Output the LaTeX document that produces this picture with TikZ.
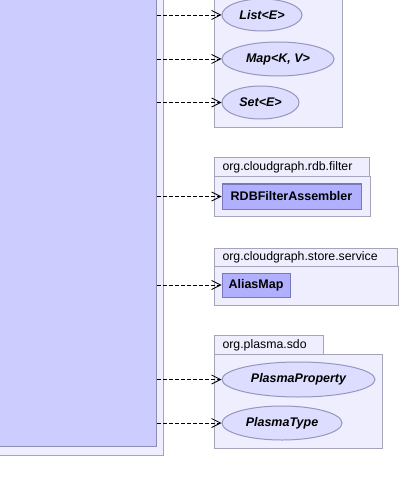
\documentclass[tikz,border=0pt]{standalone}
\usepackage{fontspec}
\setmainfont{Liberation Sans}
\usetikzlibrary{shapes.geometric, arrows.meta, positioning}
\definecolor{classfill}{RGB}{204, 204, 255}
\definecolor{classdraw}{RGB}{140, 140, 180}
\definecolor{framefill}{RGB}{238, 238, 255}
\definecolor{framedraw}{RGB}{165, 165, 185}
\definecolor{ifacefill}{RGB}{221, 221, 255}
\definecolor{ifacedraw}{RGB}{150, 150, 190}
\definecolor{boxfill}{RGB}{176, 176, 255}
\definecolor{boxdraw}{RGB}{120, 120, 190}

\begin{document}
\begin{tikzpicture}[x=1pt, y=-1pt, line width=1pt,
    pkgbody/.style={draw=framedraw, fill=framefill, inner sep=0pt, anchor=north west},
    pkgtab/.style={draw=framedraw, fill=framefill, inner xsep=8pt, inner ysep=0pt, minimum height=19pt, anchor=north west, align=left, font=\fontsize{12.3}{14}\selectfont},
    iface/.style={ellipse, draw=ifacedraw, fill=ifacefill, inner sep=0pt, font=\bfseries\itshape\fontsize{12.5}{14}\selectfont},
    cbox/.style={draw=boxdraw, fill=boxfill, inner sep=0pt, font=\bfseries\fontsize{12.5}{14}\selectfont},
    dep/.style={black, line width=0.8pt, dash pattern=on 4pt off 2pt, -{Straight Barb[length=9pt, width=9pt]}}]
        \useasboundingbox (0,0) rectangle (400,494);
        \clip (0,0) rectangle (400,494);

        % Left class (cut off) and its frame
        \node[draw=framedraw, fill=framefill, minimum width=184pt, minimum height=476pt, anchor=south east, inner sep=0pt] (frame) at (164, 456) {};
        \node[draw=classdraw, fill=classfill, minimum width=177pt, minimum height=467pt, anchor=south east, inner sep=0pt] (cls) at (157, 447) {};

        % Package java.util (tab cut off)
        \node[pkgbody, minimum width=128pt, minimum height=147pt] (utilbody) at (214, -20) {};
        \node[iface, minimum width=80pt, minimum height=32pt] (list) at (262, 15) {List<E>};
        \node[iface, minimum width=112pt, minimum height=34pt] (map) at (278, 59) {Map<K, V>};
        \node[iface, minimum width=77pt, minimum height=33pt] (set) at (260.5, 102.5) {Set<E>};

        % Package org.cloudgraph.rdb.filter
        \node[pkgtab, text width=139pt] (rdbtab) at (214, 157) {org.cloudgraph.rdb.filter};
        \node[pkgbody, minimum width=156pt, minimum height=40pt] (rdbbody) at (214, 176) {};
        \node[cbox, minimum width=139pt, minimum height=25pt] (rdbfa) at (291.5, 196.5) {RDBFilterAssembler};

        % Package org.cloudgraph.store.service
        \node[pkgtab, text width=167pt, minimum height=18pt] (storetab) at (214, 248) {org.cloudgraph.store.service};
        \node[pkgbody, minimum width=184pt, minimum height=39pt] (storebody) at (214, 266) {};
        \node[cbox, minimum width=68pt, minimum height=24pt] (alias) at (256, 285) {AliasMap};

        % Package org.plasma.sdo
        \node[pkgtab, text width=93pt] (sdotab) at (214, 335) {org.plasma.sdo};
        \node[pkgbody, minimum width=168pt, minimum height=94pt] (sdobody) at (214, 354) {};
        \node[iface, minimum width=153pt, minimum height=35pt] (pprop) at (298.5, 379.5) {PlasmaProperty};
        \node[iface, minimum width=120pt, minimum height=34pt] (ptype) at (282, 423) {PlasmaType};

        % Dependencies
        \draw[dep] (list -| cls.east) -- (list);
        \draw[dep] (map -| cls.east) -- (map);
        \draw[dep] (set -| cls.east) -- (set);
        \draw[dep] (rdbfa.west -| cls.east) -- (rdbfa.west);
        \draw[dep] (alias.west -| cls.east) -- (alias.west);
        \draw[dep] (pprop -| cls.east) -- (pprop);
        \draw[dep] (ptype -| cls.east) -- (ptype);

\end{tikzpicture}
\end{document}
